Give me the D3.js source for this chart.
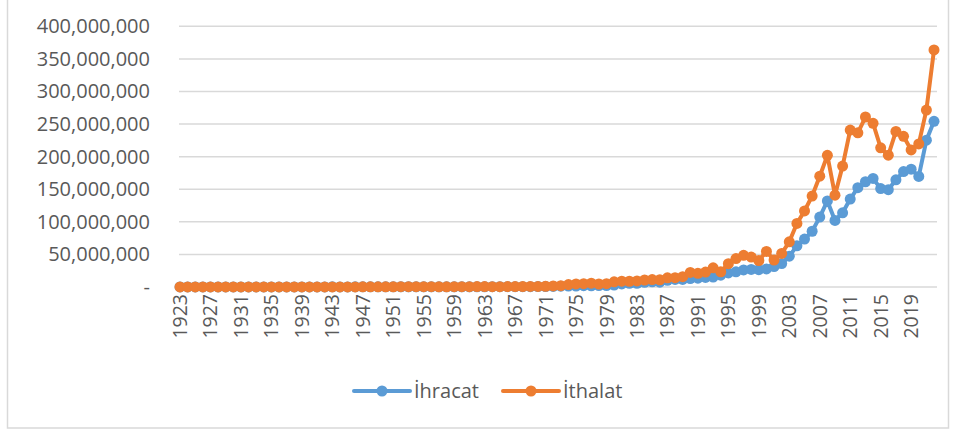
<!DOCTYPE html>
<html>
<head>
<meta charset="utf-8">
<script src="https://cdn.jsdelivr.net/npm/d3@7"></script>
<style>
  body { margin: 0; background: #fff; }
  svg { font-family: "Open Sans", sans-serif; }
</style>
</head>
<body>
<div id="chart"></div>
<script>
// years 1923..2022, values in thousand USD
const years = d3.range(1923, 2023);

const ihracat = [
  50790, 82435, 102700, 96437, 80749, 88278, 74827, 71380, 60226, 47972,
  58065, 68956, 76227, 93728, 109198, 115043, 99624, 80904, 91056, 126115,
  196799, 177990, 168264, 214595, 223327, 196806, 247838, 263424, 314082, 362914,
  396061, 334924, 313347, 304990, 345217, 247271, 353798, 320731, 346740, 381182,
  368087, 410771, 463739, 490508, 522334, 496419, 536834, 588476, 676602, 885034,
  1317083, 1532182, 1401075, 1960214, 1753026, 2288163, 2261195, 2910122, 4702934, 5746023,
  5727834, 7133604, 7958010, 7456726, 10190049, 11662024, 11624692, 12959288, 13593462, 14714629,
  15345067, 18105872, 21637041, 23224465, 26261072, 26973952, 26587225, 27774906, 31334216, 36059089,
  47252836, 63167153, 73476408, 85534676, 107271750, 132027196, 102142613, 113883219, 134906869, 152461737,
  161480915, 166504862, 150982114, 149246999, 164493092, 177168756, 180832722, 169637755, 225214458, 254171663
];

const ithalat = [
  86872, 100462, 128953, 121411, 110718, 113710, 123558, 69540, 60875, 40720,
  35742, 44664, 52446, 53061, 66860, 118934, 82094, 50035, 55349, 111849,
  154660, 126192, 96969, 118897, 244565, 275054, 290197, 285654, 402086, 555916,
  532533, 478359, 497637, 407340, 397125, 315098, 469978, 468186, 509525, 619413,
  687616, 537228, 571953, 718269, 684669, 763659, 801236, 947604, 1170840, 1562550,
  2086216, 3777501, 4738558, 5128650, 5796278, 4599025, 5069432, 7909364, 8933375, 8842665,
  9235002, 10756922, 11343375, 11104771, 14157840, 14335398, 15792143, 22302126, 21047014, 22871055,
  29428370, 23270019, 35709011, 43626642, 48558721, 45921392, 40671272, 54502821, 41399083, 51553797,
  69339692, 97539766, 116774151, 139576174, 170062715, 201963574, 140928421, 185544332, 240841676, 236545141,
  260822803, 251142452, 213619162, 202189242, 238715128, 231152483, 210345200, 219516935, 271424480, 363710944
];

const yTicks = d3.range(0, 400000001, 50000000);
const xTickYears = years.filter(y => (y - 1923) % 4 === 0);

const series = [
  { name: 'İhracat', values: ihracat, color: '#5B9BD5' },
  { name: 'İthalat', values: ithalat, color: '#ED7D31' }
];

const W = 955, H = 432;
const svg = d3.select('#chart').append('svg')
  .attr('width', W)
  .attr('height', H);

// chart area border
svg.append('rect')
  .attr('x', 7.5).attr('y', -2)
  .attr('width', 941).attr('height', 430)
  .attr('fill', 'none')
  .attr('stroke', '#d9d9d9')
  .attr('stroke-width', 1.5);

const x = d3.scalePoint().domain(years).range([180, 934]);
const y = d3.scaleLinear().domain([0, 400000000]).range([287, 26.3]);

// gridlines
svg.append('g')
  .selectAll('line')
  .data(yTicks)
  .enter().append('line')
  .attr('x1', 179).attr('x2', 937)
  .attr('y1', d => y(d)).attr('y2', d => y(d))
  .attr('stroke', '#d9d9d9')
  .attr('stroke-width', 1.5);

// y axis labels
svg.append('g')
  .attr('transform', 'translate(150,0)')
  .call(d3.axisLeft(y).tickValues(yTicks).tickSize(0).tickPadding(0)
    .tickFormat(d => d === 0 ? '-' : d3.format(',')(d)))
  .call(g => g.select('.domain').remove())
  .call(g => g.selectAll('text')
    .attr('fill', '#595959')
    .style('font-size', '20px')
    .style('font-family', '"Open Sans", sans-serif'));

// x axis labels (rotated)
const xg = svg.append('g').attr('transform', 'translate(0,294)');
xg.selectAll('text')
  .data(xTickYears)
  .enter().append('text')
  .attr('transform', d => `translate(${x(d) + 7},0) rotate(-90)`)
  .attr('text-anchor', 'end')
  .attr('fill', '#595959')
  .style('font-size', '19.5px')
  .text(d => d);

// lines + markers
const line = d3.line()
  .x((d, i) => x(years[i]))
  .y(d => y(d));

series.forEach(s => {
  const g = svg.append('g');
  g.append('path')
    .datum(s.values)
    .attr('d', line)
    .attr('fill', 'none')
    .attr('stroke', s.color)
    .attr('stroke-width', 4)
    .attr('stroke-linejoin', 'round');
  g.selectAll('circle')
    .data(s.values)
    .enter().append('circle')
    .attr('cx', (d, i) => x(years[i]))
    .attr('cy', d => y(d))
    .attr('r', 5.5)
    .attr('fill', s.color);
});

// legend
const legend = svg.append('g').attr('transform', 'translate(0,391)');
const legendX = [354, 503];
series.forEach((s, i) => {
  const lg = legend.append('g').attr('transform', `translate(${legendX[i]},0)`);
  lg.append('line')
    .attr('x1', 0).attr('x2', 56)
    .attr('stroke', s.color).attr('stroke-width', 4)
    .attr('stroke-linecap', 'round');
  lg.append('circle').attr('cx', 28).attr('r', 5.5).attr('fill', s.color);
  lg.append('text')
    .attr('x', 60).attr('y', 7)
    .attr('fill', '#595959')
    .style('font-size', '20px')
    .text(s.name);
});
</script>
</body>
</html>
